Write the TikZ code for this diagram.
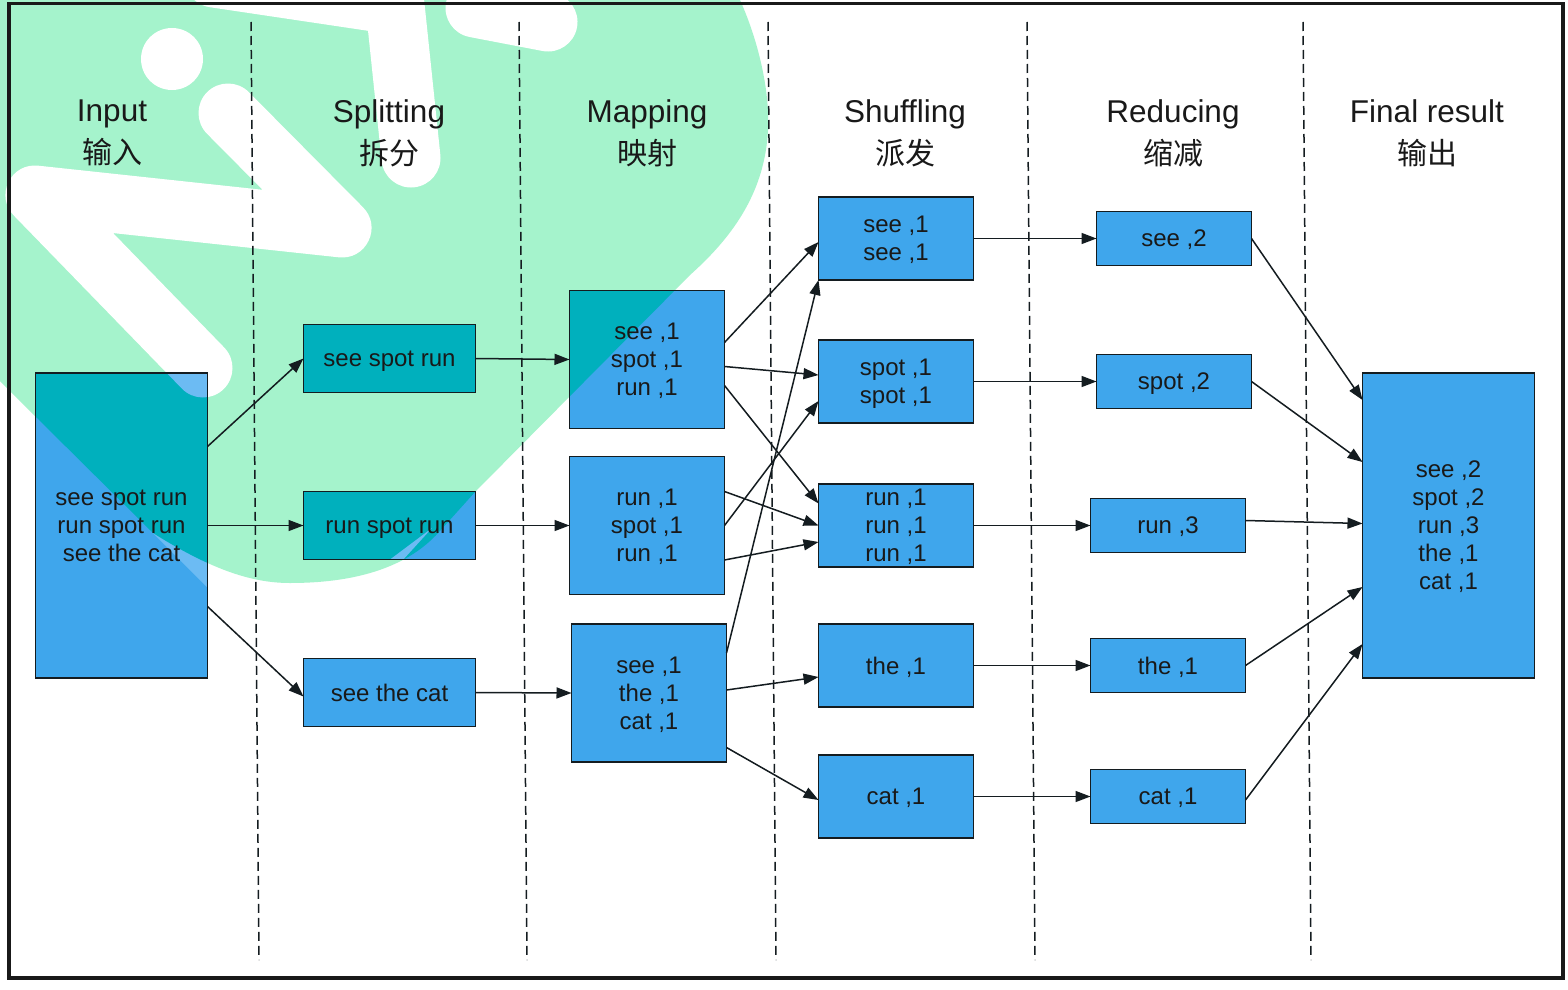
\documentclass[tikz,border=0pt]{standalone}
\usepackage{fontspec}
\setmainfont{Liberation Sans}
\newfontfamily\cjk{Noto Sans CJK SC}
\usetikzlibrary{positioning}
\usetikzlibrary{arrows.meta}
\usetikzlibrary{backgrounds}

\definecolor{boxblue}{HTML}{3FA6EC}
\definecolor{boxteal}{HTML}{00B0BD}
\definecolor{boxlight}{HTML}{6CBBF3}
\definecolor{markgreen}{HTML}{A5F3CC}
\definecolor{edgedark}{HTML}{141C20}

\newcommand{\zh}[1]{{\cjk\fontsize{30}{42}\selectfont #1}}

\tikzset{
    box/.style={draw=edgedark, line width=1.3pt, rectangle, inner sep=0pt, outer sep=0pt, text centered, align=center, text depth=0pt, text=black!90, font=\fontsize{24}{28}\selectfont},
    tallbox/.style={box, minimum width=172pt, minimum height=305pt},
    splitbox/.style={box, minimum width=172pt, minimum height=68pt},
    mapbox/.style={box, minimum width=155pt, minimum height=138pt},
    shufbox/.style={box, minimum width=155pt, minimum height=83pt},
    redbox/.style={box, minimum width=155pt, minimum height=53.5pt},
    header/.style={text centered, align=center, text=black!90, font=\fontsize{31.5}{42}\selectfont},
    flow/.style={-{Triangle[length=15pt, width=11pt]}, line width=1.5pt, draw=edgedark},
    cutline/.style={dash pattern=on 9pt off 5pt, line width=1.5pt, draw=edgedark},
    runner/.style={line width=59pt, line cap=round, line join=round},
}

% watermark outlines %
\def\blobpath{(0,0) -- (740,0) .. controls (758,40) and (770,90) .. (768,130)
    .. controls (765,190) and (735,235) .. (690,275) -- (475,492) -- (439,532)
    .. controls (405,570) and (350,583) .. (290,583) .. controls (255,583) and (215,572) .. (153,533)
    -- (36,417) -- (0,381) -- cycle}
\def\runnerlegs{(228,113) -- (342,228) -- (35,195) -- (203,368)}
\def\runnerarm{(411,158) -- (395,5) -- (214,-22)}
\def\runnerhand{(475,8) -- (548,22)}

\begin{document}
\begin{tikzpicture}[x=1pt, y=-1pt]
    \useasboundingbox (0,0) rectangle (1568,990);
    % nodes %
    \node[tallbox] (input) at (121.5,525.5) {see spot run\\run spot run\\see the cat};
    \node[splitbox, right = 96pt of input] (split2) {run spot run};
    \node[splitbox, above = 99pt of split2] (split1) {see spot run};
    \node[splitbox, below = 99pt of split2] (split3) {see the cat};
    \node[mapbox, right = 94pt of split2] (map2) {run ,1\\spot ,1\\run ,1};
    \node[mapbox, above = 28pt of map2] (map1) {see ,1\\spot ,1\\run ,1};
    \node[mapbox, below = 29.5pt of map2, xshift=2pt] (map3) {see ,1\\the ,1\\cat ,1};
    \node[shufbox, right = 94pt of map2] (shuf3) {run ,1\\run ,1\\run ,1};
    \node[shufbox, above = 61pt of shuf3] (shuf2) {spot ,1\\spot ,1};
    \node[shufbox, above = 60pt of shuf2] (shuf1) {see ,1\\see ,1};
    \node[shufbox, below = 57pt of shuf3] (shuf4) {the ,1};
    \node[shufbox, below = 48pt of shuf4] (shuf5) {cat ,1};
    \node[redbox, right = 123pt of shuf1] (red1) {see ,2};
    \node[redbox, right = 123pt of shuf2] (red2) {spot ,2};
    \node[redbox, right = 117pt of shuf3] (red3) {run ,3};
    \node[redbox, right = 117pt of shuf4] (red4) {the ,1};
    \node[redbox, right = 117pt of shuf5] (red5) {cat ,1};
    \node[tallbox, right = 117pt of red3] (final) {see ,2\\spot ,2\\run ,3\\the ,1\\cat ,1};
    % headers %
    \node[header] (tinput) at (112,133) {Input\\\zh{输入}};
    \node[header] (tsplit) at (389,133) {Splitting\\\zh{拆分}};
    \node[header] (tmap) at (647,133) {Mapping\\\zh{映射}};
    \node[header] (tshuf) at (905,133) {Shuffling\\\zh{派发}};
    \node[header] (tred) at (1173,133) {Reducing\\\zh{缩减}};
    \node[header] (tfinal) at (1427,133) {Final result\\\zh{输出}};
    % dashed separators %
    \foreach \x/\i in {251/1, 519/2, 768/3, 1027/4, 1303/5} {
        \coordinate (top\i) at (\x,22);
        \coordinate (bot\i) at (\x+8,960);
        \draw[cutline] (top\i) -- (bot\i);
    }
    % edges %
    \draw[flow] ([yshift=79pt]input.east) -- (split1.west);
    \draw[flow] (input.east) -- (split2.west);
    \draw[flow] ([yshift=-81pt]input.east) -- ([yshift=-4pt]split3.west);
    \draw[flow] (split1.east) -- (map1.west);
    \draw[flow] (split2.east) -- (map2.west);
    \draw[flow] (split3.east) -- (map3.west);
    \draw[flow] ([yshift=17pt]map1.east) -- ([yshift=-3.5pt]shuf1.west);
    \draw[flow] ([yshift=-7pt]map1.east) -- ([yshift=6.5pt]shuf2.west);
    \draw[flow] ([yshift=-26pt]map1.east) -- ([yshift=22pt]shuf3.west);
    \draw[flow] (map2.east) -- ([yshift=-19.5pt]shuf2.west);
    \draw[flow] ([yshift=34pt]map2.east) -- (shuf3.west);
    \draw[flow] ([yshift=-34.5pt]map2.east) -- ([yshift=-16.5pt]shuf3.west);
    \draw[flow] ([yshift=40pt]map3.east) -- (shuf1.south west);
    \draw[flow] ([yshift=3pt]map3.east) -- ([yshift=-11.5pt]shuf4.west);
    \draw[flow] ([yshift=-54.5pt]map3.east) -- ([yshift=-3.5pt]shuf5.west);
    \foreach \i in {1,...,5} {
        \draw[flow] (shuf\i.east) -- (red\i.west);
    }
    \draw[flow] (red1.east) -- ([yshift=125.5pt]final.west);
    \draw[flow] (red2.east) -- ([yshift=63.5pt]final.west);
    \draw[flow] ([yshift=5pt]red3.east) -- ([yshift=2pt]final.west);
    \draw[flow] (red4.east) -- ([yshift=-61.5pt]final.west);
    \draw[flow] ([yshift=-3.5pt]red5.east) -- ([yshift=-118.5pt]final.west);
    % watermark and box fills %
    \begin{pgfonlayer}{background}
        \fill[white] (0,0) rectangle (1568,990);
        \begin{scope}
            \clip (0,0) rectangle (1568,990);
            \fill[markgreen] \blobpath;
            \draw[white, runner] \runnerlegs;
            \draw[white, runner] \runnerarm;
            \draw[white, runner] \runnerhand;
            \fill[white] (172,59) circle (31);
        \end{scope}
        \foreach \n in {input, split1, split2, split3, map1, map2, map3, shuf1, shuf2, shuf3, shuf4, shuf5, red1, red2, red3, red4, red5, final} {
            \fill[boxblue] (\n.north west) rectangle (\n.south east);
        }
        \begin{scope}
            \clip (input.north west) rectangle (input.south east)
                (split1.north west) rectangle (split1.south east)
                (split2.north west) rectangle (split2.south east)
                (map1.north west) rectangle (map1.south east);
            \fill[boxlight] (150,530) -- (207,587) -- (207,550) -- cycle;
            \fill[boxteal] \blobpath;
            \fill[boxlight] (432,528) -- (402,561) -- (388,561) -- cycle;
            \draw[boxlight, runner] \runnerlegs;
        \end{scope}
        \draw[black!90, line width=3.2pt] (9,3.5) rectangle (1563,978);
    \end{pgfonlayer}
\end{tikzpicture}
\end{document}
